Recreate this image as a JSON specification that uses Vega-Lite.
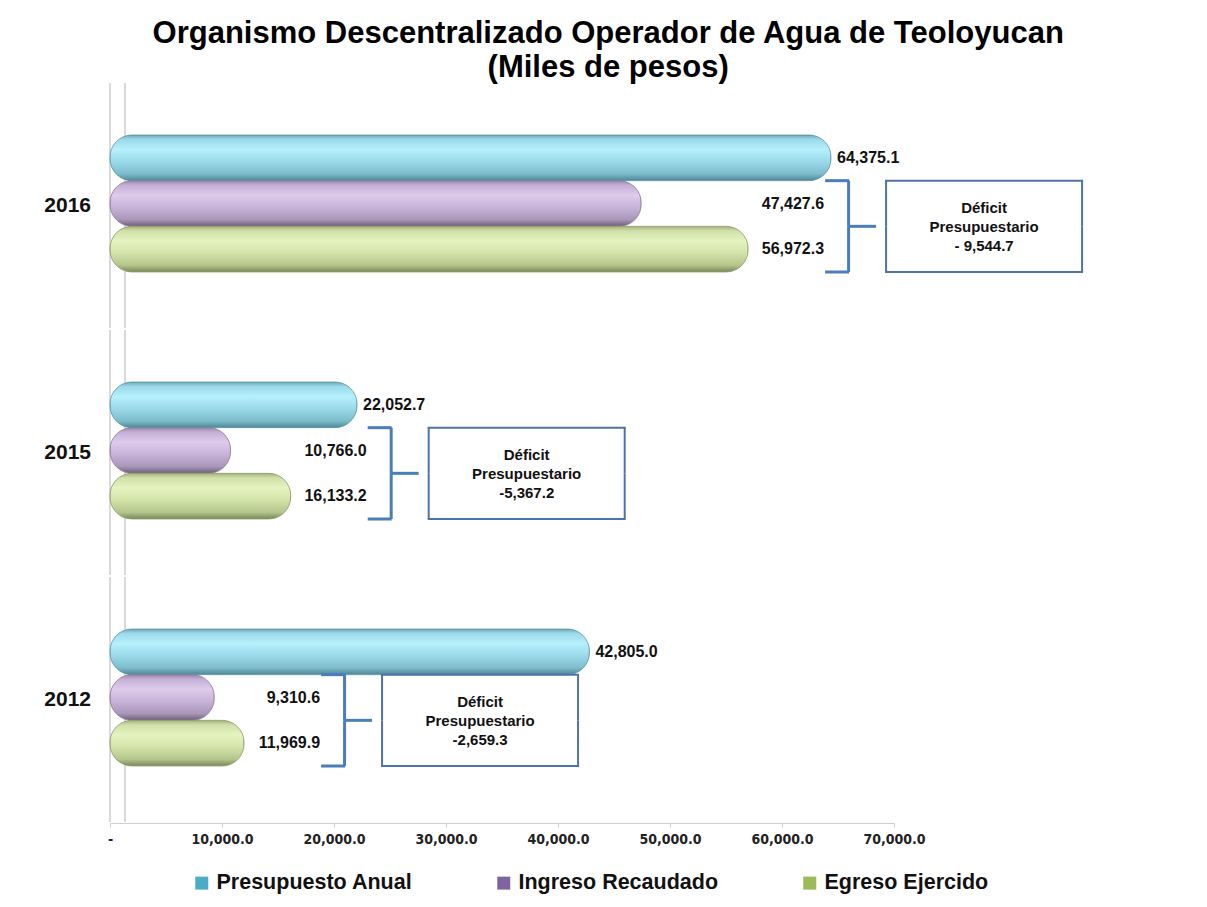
{
  "$schema": "https://vega.github.io/schema/vega-lite/v6.json",
  "background": "white",
  "padding": {"left": 44, "top": 17, "right": 5, "bottom": 5},
  "title": {
    "text": ["Organismo Descentralizado Operador de Agua de Teoloyucan", "(Miles de pesos)"],
    "fontSize": 31, "fontWeight": "bold", "font": "Liberation Sans", "color": "#000000",
    "lineHeight": 34, "anchor": "middle", "offset": -1, "dx": 44
  },
  "datasets": {
    "deficits": [
      {"year": "2016", "deficit": "-  9,544.7"},
      {"year": "2015", "deficit": "-5,367.2"},
      {"year": "2012", "deficit": "-2,659.3"}
    ]
  },
  "data": {
    "values": [
      {"year": "2016", "serie": "Presupuesto Anual", "value": 64375.1},
      {"year": "2016", "serie": "Ingreso Recaudado", "value": 47427.6},
      {"year": "2016", "serie": "Egreso Ejercido", "value": 56972.3},
      {"year": "2015", "serie": "Presupuesto Anual", "value": 22052.7},
      {"year": "2015", "serie": "Ingreso Recaudado", "value": 10766.0},
      {"year": "2015", "serie": "Egreso Ejercido", "value": 16133.2},
      {"year": "2012", "serie": "Presupuesto Anual", "value": 42805.0},
      {"year": "2012", "serie": "Ingreso Recaudado", "value": 9310.6},
      {"year": "2012", "serie": "Egreso Ejercido", "value": 11969.9}
    ]
  },
  "transform": [
    {"lookup": "year", "from": {"data": {"name": "deficits"}, "key": "year", "fields": ["deficit"]}},
    {"calculate": "datum.serie === 'Egreso Ejercido' ? datum.value : 0", "as": "egrV"},
    {"joinaggregate": [{"op": "max", "field": "egrV", "as": "egr"}], "groupby": ["year"]},
    {"calculate": "'Déficit\\nPresupuestario\\n' + datum.deficit", "as": "deficitText"}
  ],
  "facet": {
    "row": {
      "field": "year", "type": "nominal", "sort": "descending", "title": null,
      "header": {
        "labelAngle": 0, "labelAlign": "left", "labelBaseline": "middle",
        "labelFontSize": 21, "labelFontWeight": "bold", "labelFont": "Liberation Sans",
        "labelColor": "#111111", "labelPadding": 18
      }
    }
  },
  "spacing": {"row": 0},
  "spec": {
    "width": 784,
    "height": 245,
    "layer": [
      {
        "mark": {"type": "rule", "color": "#d4d4d4", "strokeWidth": 1},
        "encoding": {"x": {"datum": 0, "type": "quantitative"}}
      },
      {
        "mark": {"type": "rule", "color": "#d4d4d4", "strokeWidth": 1, "xOffset": 15},
        "encoding": {"x": {"datum": 0, "type": "quantitative"}}
      },
      {
        "mark": {"type": "bar", "opacity": 0},
        "encoding": {
          "y": {"field": "serie", "type": "nominal", "axis": null, "title": null,
                "scale": {"domain": ["Presupuesto Anual", "Ingreso Recaudado", "Egreso Ejercido"], "range": [52, 189], "paddingInner": 0, "paddingOuter": 0}},
          "x": {"field": "value", "type": "quantitative", "title": null,
                "scale": {"domain": [0, 70000], "nice": false},
                "axis": {
                  "values": [0, 10000, 20000, 30000, 40000, 50000, 60000, 70000],
                  "labelExpr": "datum.value == 0 ? '-' : format(datum.value, ',.1f')",
                  "labelFlush": false,
                  "grid": false, "domainColor": "#d0d0d0", "tickColor": "#d0d0d0", "tickSize": 4,
                  "labelFont": "DejaVu Sans Condensed, Liberation Sans", "labelFontWeight": "bold", "labelFontSize": 14,
                  "labelColor": "#222222", "labelPadding": 5
                }},
          "color": {"field": "serie", "type": "nominal",
                    "scale": {"domain": ["Presupuesto Anual", "Ingreso Recaudado", "Egreso Ejercido"], "range": ["#4BACC6", "#8064A2", "#9BBB59"]},
                    "legend": {"orient": "none", "legendX": 81, "legendY": 789, "direction": "horizontal", "title": null, "symbolType": "square",
                               "symbolSize": 169, "symbolOpacity": 1, "symbolStrokeWidth": 0, "labelFontSize": 21.5, "labelFontWeight": "bold",
                               "labelFont": "Liberation Sans", "labelColor": "#111111", "labelLimit": 400, "labelOffset": 4, "columnPadding": 80}}
        }
      },
      {
        "transform": [{"filter": "datum.serie === 'Presupuesto Anual'"}],
        "mark": {"type": "bar", "cornerRadius": 22, "stroke": "#5f97a6", "strokeWidth": 0.8,
                 "fill": {"gradient": "linear", "x1": 0, "y1": 0, "x2": 0, "y2": 1,
                          "stops": [{"offset": 0, "color": "#6FA9B8"}, {"offset": 0.1, "color": "#9CDAEA"}, {"offset": 0.32, "color": "#B5F0FC"},
                                    {"offset": 0.58, "color": "#9BDAEA"}, {"offset": 0.85, "color": "#7DBCCB"}, {"offset": 1, "color": "#4E8796"}]}},
        "encoding": {
          "y": {"field": "serie", "type": "nominal", "scale": {"domain": ["Presupuesto Anual", "Ingreso Recaudado", "Egreso Ejercido"], "range": [52, 189], "paddingInner": 0, "paddingOuter": 0}},
          "x": {"field": "value", "type": "quantitative"}
        }
      },
      {
        "transform": [{"filter": "datum.serie === 'Ingreso Recaudado'"}],
        "mark": {"type": "bar", "cornerRadius": 22, "stroke": "#8a7899", "strokeWidth": 0.8,
                 "fill": {"gradient": "linear", "x1": 0, "y1": 0, "x2": 0, "y2": 1,
                          "stops": [{"offset": 0, "color": "#9A86A8"}, {"offset": 0.1, "color": "#C4B0D5"}, {"offset": 0.32, "color": "#DDCBEC"},
                                    {"offset": 0.58, "color": "#C8B3D9"}, {"offset": 0.85, "color": "#A996B8"}, {"offset": 1, "color": "#6E5F7A"}]}},
        "encoding": {
          "y": {"field": "serie", "type": "nominal", "scale": {"domain": ["Presupuesto Anual", "Ingreso Recaudado", "Egreso Ejercido"], "range": [52, 189], "paddingInner": 0, "paddingOuter": 0}},
          "x": {"field": "value", "type": "quantitative"}
        }
      },
      {
        "transform": [{"filter": "datum.serie === 'Egreso Ejercido'"}],
        "mark": {"type": "bar", "cornerRadius": 22, "stroke": "#8f9c6a", "strokeWidth": 0.8,
                 "fill": {"gradient": "linear", "x1": 0, "y1": 0, "x2": 0, "y2": 1,
                          "stops": [{"offset": 0, "color": "#A3B27A"}, {"offset": 0.1, "color": "#D0E0A8"}, {"offset": 0.32, "color": "#E5F4C0"},
                                    {"offset": 0.58, "color": "#D3E4AA"}, {"offset": 0.85, "color": "#B5C68D"}, {"offset": 1, "color": "#7A8759"}]}},
        "encoding": {
          "y": {"field": "serie", "type": "nominal", "scale": {"domain": ["Presupuesto Anual", "Ingreso Recaudado", "Egreso Ejercido"], "range": [52, 189], "paddingInner": 0, "paddingOuter": 0}},
          "x": {"field": "value", "type": "quantitative"}
        }
      },
      {
        "transform": [{"filter": "datum.serie === 'Presupuesto Anual'"}],
        "mark": {"type": "text", "align": "left", "baseline": "middle", "dx": 6, "fontSize": 16, "fontWeight": "bold", "font": "Liberation Sans", "color": "#111111"},
        "encoding": {
          "y": {"field": "serie", "type": "nominal", "scale": {"domain": ["Presupuesto Anual", "Ingreso Recaudado", "Egreso Ejercido"], "range": [52, 189], "paddingInner": 0, "paddingOuter": 0}},
          "x": {"field": "value", "type": "quantitative"},
          "text": {"field": "value", "type": "quantitative", "format": ",.1f"}
        }
      },
      {
        "transform": [{"filter": "datum.serie !== 'Presupuesto Anual'"}],
        "mark": {"type": "text", "align": "right", "baseline": "middle", "dx": 76, "fontSize": 16, "fontWeight": "bold", "font": "Liberation Sans", "color": "#111111"},
        "encoding": {
          "y": {"field": "serie", "type": "nominal", "scale": {"domain": ["Presupuesto Anual", "Ingreso Recaudado", "Egreso Ejercido"], "range": [52, 189], "paddingInner": 0, "paddingOuter": 0}},
          "x": {"field": "egr", "type": "quantitative"},
          "text": {"field": "value", "type": "quantitative", "format": ",.1f"}
        }
      },
      {
        "transform": [{"filter": "datum.serie === 'Ingreso Recaudado'"}],
        "mark": {"type": "rule", "xOffset": 77, "x2Offset": 101, "color": "#4A7EBB", "strokeWidth": 3},
        "encoding": {
          "y": {"field": "serie", "type": "nominal", "bandPosition": 0, "scale": {"domain": ["Presupuesto Anual", "Ingreso Recaudado", "Egreso Ejercido"], "range": [52, 189], "paddingInner": 0, "paddingOuter": 0}},
          "x": {"field": "egr", "type": "quantitative"},
          "x2": {"field": "egr"}
        }
      },
      {
        "transform": [{"filter": "datum.serie === 'Egreso Ejercido'"}],
        "mark": {"type": "rule", "xOffset": 77, "x2Offset": 101, "color": "#4A7EBB", "strokeWidth": 3},
        "encoding": {
          "y": {"field": "serie", "type": "nominal", "bandPosition": 1, "scale": {"domain": ["Presupuesto Anual", "Ingreso Recaudado", "Egreso Ejercido"], "range": [52, 189], "paddingInner": 0, "paddingOuter": 0}},
          "x": {"field": "egr", "type": "quantitative"},
          "x2": {"field": "egr"}
        }
      },
      {
        "transform": [{"filter": "datum.serie === 'Egreso Ejercido'"}],
        "mark": {"type": "rule", "xOffset": 100, "x2Offset": 128, "color": "#4A7EBB", "strokeWidth": 3},
        "encoding": {
          "y": {"field": "serie", "type": "nominal", "bandPosition": 0, "scale": {"domain": ["Presupuesto Anual", "Ingreso Recaudado", "Egreso Ejercido"], "range": [52, 189], "paddingInner": 0, "paddingOuter": 0}},
          "x": {"field": "egr", "type": "quantitative"},
          "x2": {"field": "egr"}
        }
      },
      {
        "transform": [{"filter": "datum.serie !== 'Presupuesto Anual'"}],
        "mark": {"type": "bar", "xOffset": 99, "x2Offset": 102, "color": "#4A7EBB"},
        "encoding": {
          "y": {"field": "serie", "type": "nominal", "scale": {"domain": ["Presupuesto Anual", "Ingreso Recaudado", "Egreso Ejercido"], "range": [52, 189], "paddingInner": 0, "paddingOuter": 0}},
          "x": {"field": "egr", "type": "quantitative"},
          "x2": {"field": "egr"}
        }
      },
      {
        "transform": [{"filter": "datum.serie === 'Ingreso Recaudado'"}],
        "mark": {"type": "rule", "xOffset": 137, "x2Offset": 335, "color": "#4F72A8", "strokeWidth": 2},
        "encoding": {
          "y": {"field": "serie", "type": "nominal", "bandPosition": 0, "scale": {"domain": ["Presupuesto Anual", "Ingreso Recaudado", "Egreso Ejercido"], "range": [52, 189], "paddingInner": 0, "paddingOuter": 0}},
          "x": {"field": "egr", "type": "quantitative"},
          "x2": {"field": "egr"}
        }
      },
      {
        "transform": [{"filter": "datum.serie === 'Egreso Ejercido'"}],
        "mark": {"type": "rule", "xOffset": 137, "x2Offset": 335, "color": "#4F72A8", "strokeWidth": 2},
        "encoding": {
          "y": {"field": "serie", "type": "nominal", "bandPosition": 1, "scale": {"domain": ["Presupuesto Anual", "Ingreso Recaudado", "Egreso Ejercido"], "range": [52, 189], "paddingInner": 0, "paddingOuter": 0}},
          "x": {"field": "egr", "type": "quantitative"},
          "x2": {"field": "egr"}
        }
      },
      {
        "transform": [{"filter": "datum.serie !== 'Presupuesto Anual'"}],
        "mark": {"type": "bar", "xOffset": 137, "x2Offset": 139, "color": "#4F72A8"},
        "encoding": {
          "y": {"field": "serie", "type": "nominal", "scale": {"domain": ["Presupuesto Anual", "Ingreso Recaudado", "Egreso Ejercido"], "range": [52, 189], "paddingInner": 0, "paddingOuter": 0}},
          "x": {"field": "egr", "type": "quantitative"},
          "x2": {"field": "egr"}
        }
      },
      {
        "transform": [{"filter": "datum.serie !== 'Presupuesto Anual'"}],
        "mark": {"type": "bar", "xOffset": 333, "x2Offset": 335, "color": "#4F72A8"},
        "encoding": {
          "y": {"field": "serie", "type": "nominal", "scale": {"domain": ["Presupuesto Anual", "Ingreso Recaudado", "Egreso Ejercido"], "range": [52, 189], "paddingInner": 0, "paddingOuter": 0}},
          "x": {"field": "egr", "type": "quantitative"},
          "x2": {"field": "egr"}
        }
      },
      {
        "transform": [{"filter": "datum.serie === 'Egreso Ejercido'"}],
        "mark": {"type": "text", "align": "center", "baseline": "middle", "dx": 236, "dy": -18, "lineBreak": "\n", "lineHeight": 19,
                 "fontSize": 15, "fontWeight": "bold", "font": "Liberation Sans", "color": "#111111"},
        "encoding": {
          "y": {"field": "serie", "type": "nominal", "bandPosition": 0, "scale": {"domain": ["Presupuesto Anual", "Ingreso Recaudado", "Egreso Ejercido"], "range": [52, 189], "paddingInner": 0, "paddingOuter": 0}},
          "x": {"field": "egr", "type": "quantitative"},
          "text": {"field": "deficitText", "type": "nominal"}
        }
      }
    ]
  },
  "config": {
    "view": {"stroke": null},
    "font": "Liberation Sans"
  }
}
